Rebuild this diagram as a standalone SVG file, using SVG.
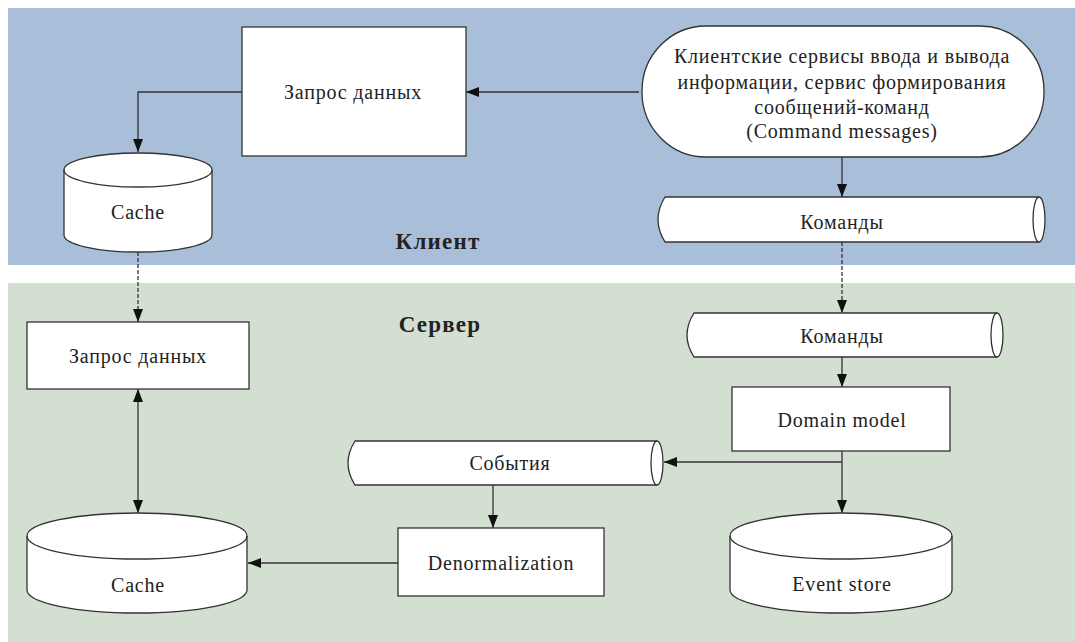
<svg xmlns="http://www.w3.org/2000/svg" width="1075" height="642" viewBox="0 0 1075 642">
<defs>
<style>
.sh{fill:#fff;stroke:#333;stroke-width:1.3}
.t{font-family:"Liberation Serif","Times New Roman",serif;font-size:20px;fill:#222;text-anchor:middle;letter-spacing:0.8px}
.b{font-family:"Liberation Serif","Times New Roman",serif;font-size:23px;font-weight:bold;fill:#222;text-anchor:middle;letter-spacing:1.2px}
.c{fill:none;stroke:#333;stroke-width:1.3}
.d{fill:none;stroke:#333;stroke-width:1.3;stroke-dasharray:4 2}
</style>
<marker id="ah" viewBox="0 0 13 12" refX="13" refY="6" markerWidth="13" markerHeight="12" markerUnits="userSpaceOnUse" orient="auto-start-reverse">
<path d="M0,1 L13,6 L0,11 Z" fill="#111"/>
</marker>
</defs>
<rect x="8" y="8" width="1067" height="257" fill="#a9bed9"/>
<rect x="8" y="283" width="1067" height="359" fill="#d3dfd0"/>
<text class="b" x="438" y="249">Клиент</text>
<text class="b" x="440" y="332">Сервер</text>

<g id="connectors">
<path class="c" d="M639,92 L466,92" marker-end="url(#ah)"/>
<path class="c" d="M242,92 L138,92 L138,152" marker-end="url(#ah)"/>
<path class="d" d="M138,252 L138,322" marker-end="url(#ah)"/>
<path class="c" d="M842,157 L842,197" marker-end="url(#ah)"/>
<path class="d" d="M842,242 L842,313" marker-end="url(#ah)"/>
<path class="c" d="M842,357 L842,387" marker-end="url(#ah)"/>
<path class="c" d="M842,451 L842,513" marker-end="url(#ah)"/>
<path class="c" d="M842,462 L664,462" marker-end="url(#ah)"/>
<path class="c" d="M493,485 L493,528" marker-end="url(#ah)"/>
<path class="c" d="M398,563 L248,563" marker-end="url(#ah)"/>
<path class="c" d="M138,389 L138,513" marker-start="url(#ah)" marker-end="url(#ah)"/>
</g>

<g id="client-request">
<rect class="sh" x="242" y="27" width="224" height="129"/>
<text class="t" x="353" y="99">Запрос  данных</text>
</g>

<g id="client-services">
<rect class="sh" x="642" y="26" width="402" height="131" rx="64" ry="65"/>
<text class="t" x="842" y="63">Клиентские сервисы ввода и вывода</text>
<text class="t" x="842" y="89">информации, сервис формирования</text>
<text class="t" x="842" y="114">сообщений-команд</text>
<text class="t" x="842" y="138">(Command messages)</text>
</g>

<g id="client-cache">
<path class="sh" d="M64,170 A74,17 0 0 1 212,170 L212,235 A74,17 0 0 1 64,235 Z"/>
<path class="c" d="M64,170 A74,17 0 0 0 212,170"/>
<text class="t" x="138" y="219">Cache</text>
</g>

<g id="client-commands">
<path class="sh" d="M665,197 L1039,197 A6,22.5 0 0 1 1039,242 L665,242 Q651,219.5 665,197 Z"/>
<path class="c" d="M1039,197 A6,22.5 0 0 0 1039,242"/>
<text class="t" x="842" y="229">Команды</text>
</g>

<g id="server-commands">
<path class="sh" d="M694,313 L997,313 A6,22 0 0 1 997,357 L694,357 Q680,335 694,313 Z"/>
<path class="c" d="M997,313 A6,22 0 0 0 997,357"/>
<text class="t" x="842" y="343">Команды</text>
</g>

<g id="server-request">
<rect class="sh" x="27" y="322" width="222" height="67"/>
<text class="t" x="138" y="363">Запрос  данных</text>
</g>

<g id="domain-model">
<rect class="sh" x="732" y="387" width="218" height="64"/>
<text class="t" x="842" y="427">Domain model</text>
</g>

<g id="events">
<path class="sh" d="M355,441 L657,441 A6,22 0 0 1 657,485 L355,485 Q341,463 355,441 Z"/>
<path class="c" d="M657,441 A6,22 0 0 0 657,485"/>
<text class="t" x="510" y="470">События</text>
</g>

<g id="denormalization">
<rect class="sh" x="398" y="528" width="206" height="68"/>
<text class="t" x="501" y="570">Denormalization</text>
</g>

<g id="server-cache">
<path class="sh" d="M27,536 A110,23 0 0 1 247,536 L247,590 A110,23 0 0 1 27,590 Z"/>
<path class="c" d="M27,536 A110,23 0 0 0 247,536"/>
<text class="t" x="138" y="592">Cache</text>
</g>

<g id="event-store">
<path class="sh" d="M730,536 A111,23 0 0 1 952,536 L952,590 A111,23 0 0 1 730,590 Z"/>
<path class="c" d="M730,536 A111,23 0 0 0 952,536"/>
<text class="t" x="842" y="591">Event store</text>
</g>
</svg>
